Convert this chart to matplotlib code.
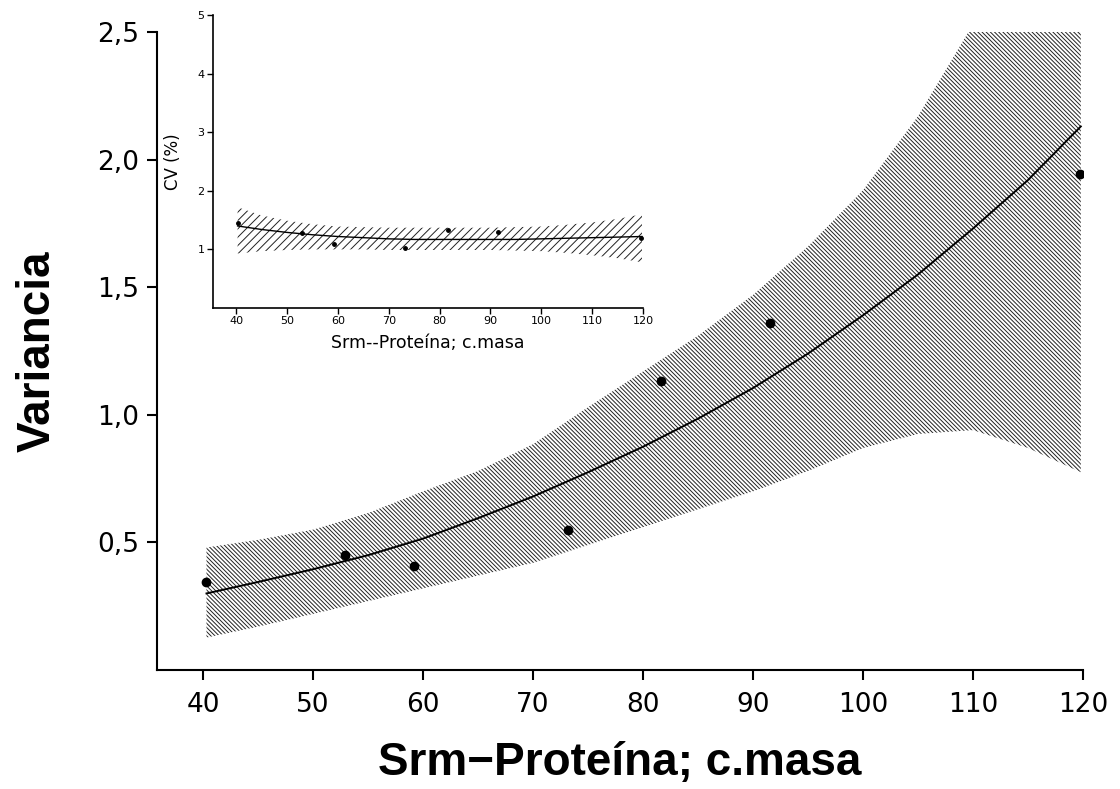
import matplotlib
matplotlib.use("Agg")
import matplotlib.pyplot as plt

# ---------------- data ----------------
x_obs = [40.3, 52.9, 59.2, 73.2, 81.6, 91.5, 119.7]
var_obs = [0.343, 0.449, 0.406, 0.547, 1.131, 1.359, 1.944]
cv_obs = [1.455, 1.28, 1.085, 1.017, 1.33, 1.295, 1.20]

x_fit = [40.3, 45, 50, 55, 60, 65, 70, 75, 80, 85, 90, 95, 100, 105, 110, 115, 119.8]
var_fit = [0.30, 0.345, 0.395, 0.45, 0.515, 0.595, 0.68, 0.775, 0.875, 0.985, 1.105, 1.24, 1.39, 1.55, 1.73, 1.92, 2.13]
var_upper = [0.48, 0.51, 0.55, 0.615, 0.70, 0.78, 0.885, 1.03, 1.17, 1.31, 1.47, 1.66, 1.88, 2.17, 2.53, 2.95, 3.40]
var_lower = [0.127, 0.17, 0.22, 0.27, 0.32, 0.37, 0.42, 0.49, 0.56, 0.63, 0.70, 0.78, 0.87, 0.925, 0.94, 0.87, 0.775]

cv_fit = [1.40, 1.34, 1.29, 1.25, 1.22, 1.20, 1.18, 1.17, 1.17, 1.17, 1.17, 1.17, 1.18, 1.19, 1.20, 1.21, 1.22]
cv_upper = [1.72, 1.58, 1.49, 1.43, 1.39, 1.38, 1.37, 1.37, 1.37, 1.37, 1.37, 1.38, 1.39, 1.42, 1.46, 1.52, 1.60]
cv_lower = [0.93, 0.97, 0.99, 1.00, 1.00, 1.00, 0.99, 0.99, 0.99, 0.99, 0.99, 0.98, 0.97, 0.94, 0.90, 0.85, 0.78]

x_ticks = [40, 50, 60, 70, 80, 90, 100, 110, 120]
x_tick_labels = ["40", "50", "60", "70", "80", "90", "100", "110", "120"]
var_ticks = [0.5, 1.0, 1.5, 2.0, 2.5]
var_tick_labels = ["0,5", "1,0", "1,5", "2,0", "2,5"]
cv_ticks = [1, 2, 3, 4, 5]
cv_tick_labels = ["1", "2", "3", "4", "5"]

main_xlabel = "Srm\u2212Proteína; c.masa"
main_ylabel = "Variancia"
inset_xlabel = "Srm--Proteína; c.masa"
inset_ylabel = "CV (%)"

# ---------------- figure ----------------
plt.rcParams["hatch.linewidth"] = 0.7
fig = plt.figure(figsize=(11.2, 7.89), dpi=100)

W, H = 1120, 789
# main axes
ax = fig.add_axes([157 / W, 1 - 670 / H, (1083 - 157) / W, (670 - 32) / H])
ax.fill_between(x_fit, var_lower, var_upper, facecolor="none", edgecolor="#222222",
                hatch="\\" * 8, linewidth=0)
ax.plot(x_fit, var_fit, color="black", lw=1.4)
ax.plot(x_obs, var_obs, "o", color="black", ms=6)
ax.set_xlim(35.8, 120)
ax.set_ylim(0, 2.5)
for s in ["top", "right"]:
    ax.spines[s].set_visible(False)
for s in ["left", "bottom"]:
    ax.spines[s].set_linewidth(1.5)
ax.set_xticks(x_ticks)
ax.set_xticklabels(x_tick_labels, family="DejaVu Sans", fontsize=19)
ax.set_yticks(var_ticks)
ax.set_yticklabels(var_tick_labels, family="DejaVu Sans", fontsize=19)
ax.tick_params(axis="x", length=7.2, width=1.5, pad=8.5)
ax.tick_params(axis="y", length=7.2, width=1.5, pad=5.8)
ax.set_xlabel(main_xlabel, family="Liberation Sans", fontweight="bold", fontsize=33)
ax.set_ylabel(main_ylabel, family="Liberation Sans", fontweight="bold", fontsize=33)
ax.xaxis.set_label_coords(0.5, -0.111)
ax.yaxis.set_label_coords(-0.1048, 0.5)

# inset axes
ai = fig.add_axes([212.7 / W, 1 - 308 / H, (643 - 212.7) / W, (308 - 15) / H])
ai.patch.set_alpha(0)
ai.fill_between(x_fit, cv_lower, cv_upper, facecolor="none", edgecolor="#222222",
                hatch="/" * 4, linewidth=0)
ai.plot(x_fit, cv_fit, color="black", lw=1.0)
ai.plot(x_obs, cv_obs, "o", color="black", ms=2.5)
ai.set_xlim(35.4, 120)
ai.set_ylim(0, 5)
for s in ["top", "right"]:
    ai.spines[s].set_visible(False)
for s in ["left", "bottom"]:
    ai.spines[s].set_linewidth(1.2)
ai.set_xticks(x_ticks)
ai.set_xticklabels(x_tick_labels, family="DejaVu Sans", fontsize=8)
ai.set_yticks(cv_ticks)
ai.set_yticklabels(cv_tick_labels, family="DejaVu Sans", fontsize=8)
ai.tick_params(length=4.3, width=1.0, pad=1.5)
ai.set_xlabel(inset_xlabel, family="DejaVu Sans", fontsize=12.5)
ai.set_ylabel(inset_ylabel, family="DejaVu Sans", fontsize=12)
ai.xaxis.set_label_coords(0.5, -0.088)
ai.yaxis.set_label_coords(-0.0725, 0.5)

fig.savefig("out.png", dpi=100)
